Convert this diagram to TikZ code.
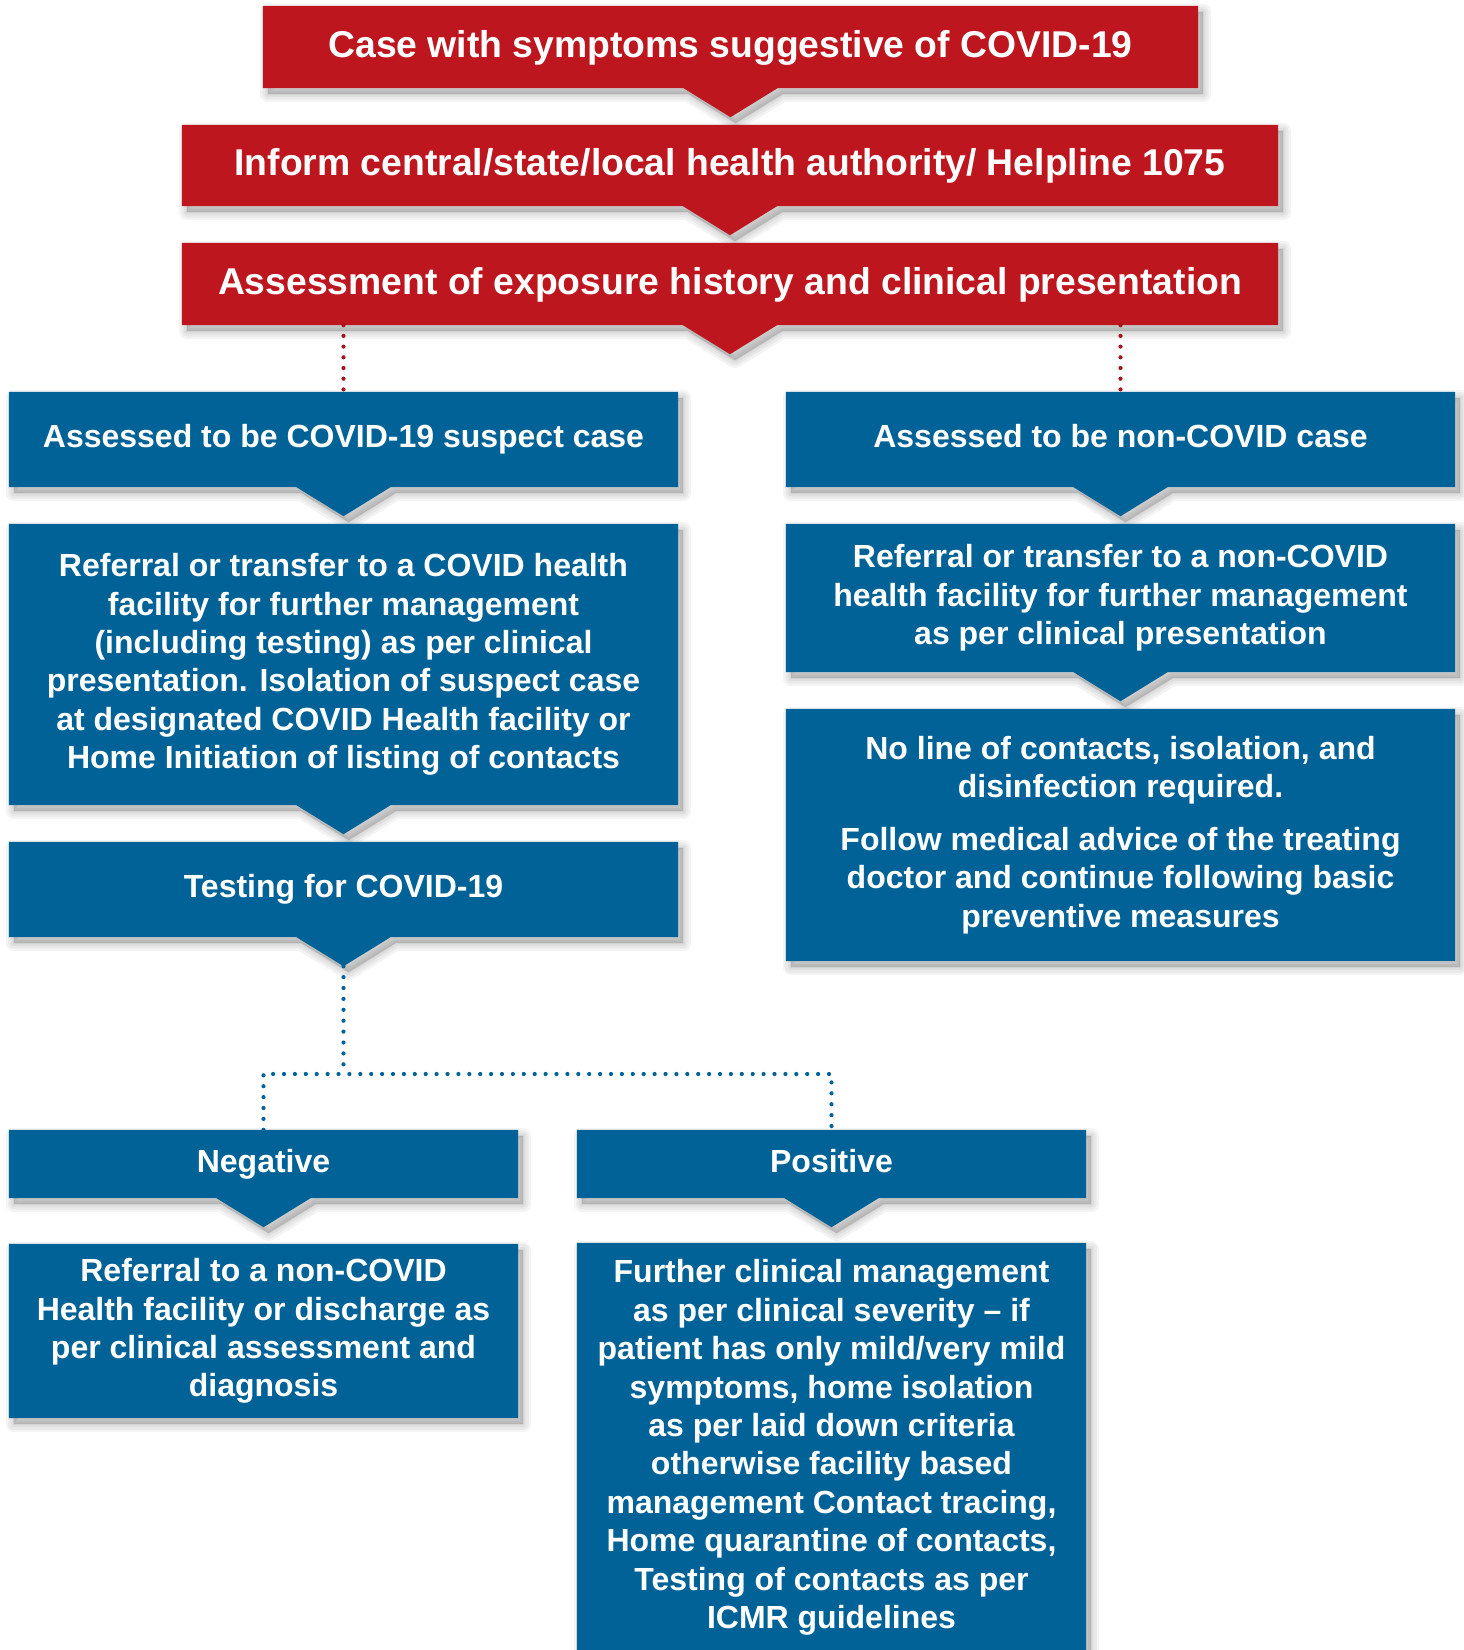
\documentclass[tikz,border=0pt]{standalone}
\usepackage{fontspec}
\setmainfont{Liberation Sans}
\usetikzlibrary{backgrounds,calc}
\definecolor{cred}{RGB}{190,22,30}
\definecolor{cblue}{RGB}{0,98,150}
\definecolor{dred}{RGB}{165,20,30}
\newcommand\boxpath[2]{(#1.north west) -- (#1.north east) -- (#1.south east) -- ([xshift=47pt]#1.south) -- ([yshift=-#2pt]#1.south) -- ([xshift=-47pt]#1.south) -- (#1.south west) -- cycle}
\tikzset{
  flowbox/.style={rectangle, inner sep=0pt, align=center, text=white},
  redbox/.style={flowbox, font=\fontsize{37.3}{45}\selectfont\bfseries, text height=27pt, text depth=7pt},
  bluebox/.style={flowbox, font=\fontsize{32}{38.4}\selectfont\bfseries},
  blueline/.style={bluebox, text height=23pt, text depth=7pt},
  dotr/.style={draw=dred, line width=4.2pt, line cap=round, dash pattern=on 0pt off 10.7pt},
  dotb/.style={draw=cblue, line width=4.2pt, line cap=round, dash pattern=on 0pt off 10.9pt},
}
\begin{document}
\begin{tikzpicture}[x=1pt,y=-1pt]
\useasboundingbox (0,0) rectangle (1464,1650);
% red boxes
\node[redbox, minimum width=935pt, minimum height=82pt] (r1) at (730.5,47) {Case with symptoms suggestive of COVID-19};
\node[redbox, minimum width=1096pt, minimum height=81pt] (r2) at (730,165.5) {Inform central/state/local health authority/ Helpline 1075};
\node[redbox, minimum width=1096pt, minimum height=82pt] (r3) at (730,284) {Assessment of exposure history and clinical presentation};
% blue boxes, left column
\node[blueline, minimum width=669pt, minimum height=95pt] (s1) at (343.5,439.5) {Assessed to be COVID-19 suspect case};
\node[bluebox, minimum width=669pt, minimum height=281pt] (s2) at (343.5,664.5) {Referral or transfer to a COVID health\\ facility for further management\\ (including testing) as per clinical\\ presentation. Isolation of suspect case\\ at designated COVID Health facility or\\ Home Initiation of listing of contacts};
\node[blueline, minimum width=669pt, minimum height=95pt] (t) at (343.5,889.5) {Testing for COVID-19};
% blue boxes, right column
\node[blueline, minimum width=669pt, minimum height=95pt] (n1) at (1120.5,439.5) {Assessed to be non-COVID case};
\node[bluebox, minimum width=669pt, minimum height=148pt] (n2) at (1120.5,598) {Referral or transfer to a non-COVID\\ health facility for further management\\ as per clinical presentation};
\node[bluebox, minimum width=669pt, minimum height=252pt] (n3) at (1120.5,835) {No line of contacts, isolation, and\\ disinfection required.\\[14pt] Follow medical advice of the treating\\ doctor and continue following basic\\ preventive measures};
% results
\node[blueline, minimum width=509pt, minimum height=68pt] (neg) at (263.5,1164) {Negative};
\node[blueline, minimum width=509pt, minimum height=68pt] (pos) at (831.5,1164) {Positive};
\node[bluebox, minimum width=509pt, minimum height=174pt] (rn) at (263.5,1331) {Referral to a non-COVID\\ Health facility or discharge as\\ per clinical assessment and\\ diagnosis};
\node[bluebox, minimum width=509pt, minimum height=409pt] (fc) at (831.5,1447.5) {Further clinical management\\ as per clinical severity – if\\ patient has only mild/very mild\\ symptoms, home isolation\\ as per laid down criteria\\ otherwise facility based\\ management Contact tracing,\\ Home quarantine of contacts,\\ Testing of contacts as per\\ ICMR guidelines};
% shapes with shadows
\begin{pgfonlayer}{background}
\foreach \n/\d in {r1/29,r2/29,r3/29,s1/29,s2/29,t/29,n1/29,n2/29,n3/0,neg/29,pos/29,rn/0,fc/0}{
  \foreach \w in {16,11,6,2}{
    \filldraw[black, opacity=0.045, line width=\w pt, line join=round, transform canvas={shift={(5pt,-6pt)}}] \boxpath{\n}{\d};
  }
}
\foreach \n/\c/\d in {r1/cred/29,r2/cred/29,r3/cred/29,s1/cblue/29,s2/cblue/29,t/cblue/29,n1/cblue/29,n2/cblue/29,n3/cblue/0,neg/cblue/29,pos/cblue/29,rn/cblue/0,fc/cblue/0}{
  \fill[\c] \boxpath{\n}{\d};
}
\end{pgfonlayer}
% connectors
\draw[dotr] (r3.south -| s1.north) -- (s1.north);
\draw[dotr] (r3.south -| n1.north) -- (n1.north);
\coordinate (ttip) at ([yshift=-29pt]t.south);
\coordinate (bar) at (344,1074);
\draw[dotb] (ttip) -- (ttip |- bar);
\draw[dotb] (neg.north) -- (neg.north |- bar) -- (pos.north |- bar) -- (pos.north);
\end{tikzpicture}
\end{document}
